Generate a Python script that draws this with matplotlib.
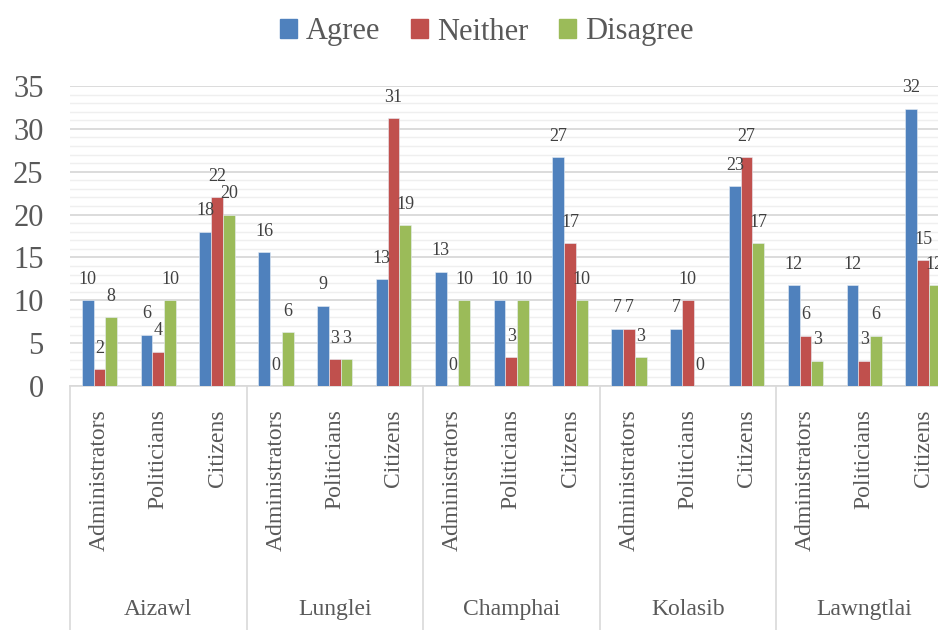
import matplotlib
matplotlib.use("Agg")
import matplotlib.pyplot as plt
import matplotlib.patches as mpatches
from matplotlib.ticker import MultipleLocator
import numpy as np

plt.rcParams['font.family'] = ['Liberation Serif', 'DejaVu Serif']

districts = ["Aizawl", "Lunglei", "Champhai", "Kolasib", "Lawngtlai"]
groups = ["Administrators", "Politicians", "Citizens"]
series = ["Agree", "Neither", "Disagree"]

# percentages, one entry per district/group pair
agree = [10.0, 6.0, 18.0,
         15.63, 9.38, 12.5,
         13.33, 10.0, 26.67,
         6.67, 6.67, 23.33,
         11.76, 11.76, 32.35]
neither = [2.0, 4.0, 22.0,
           0.0, 3.13, 31.25,
           0.0, 3.33, 16.67,
           6.67, 10.0, 26.67,
           5.88, 2.94, 14.71]
disagree = [8.0, 10.0, 20.0,
            6.25, 3.13, 18.75,
            10.0, 10.0, 10.0,
            3.33, 0.0, 16.67,
            2.94, 5.88, 11.76]

colors = ["#4F81BD", "#C0504D", "#9BBB59"]
text_grey = "#595959"

fig = plt.figure(figsize=(9.38, 6.30), dpi=100)
ax = fig.add_axes([70 / 938, 1 - 386 / 630, 882.5 / 938, 300 / 630])

n = len(districts) * len(groups)
x = np.arange(n)
width = 0.2

for i, (vals, col) in enumerate(zip([agree, neither, disagree], colors)):
    pos = x + (i - 1) * width
    ax.bar(pos, vals, width, color=col, edgecolor="#E8EEF6", linewidth=0.4, zorder=3)
    for px, v in zip(pos, vals):
        # round half up for the printed value
        label = int(np.floor(v + 0.5))
        ax.annotate(f"{label}", (px, v), xytext=(0, 15), textcoords="offset points",
                    ha="center", va="center", fontsize=13, color="#404040", zorder=4)

ax.set_xlim(-0.5, n - 0.5)
ax.set_ylim(0, 35)
ax.yaxis.set_major_locator(MultipleLocator(5))
ax.yaxis.set_minor_locator(MultipleLocator(1))
ax.grid(axis="y", which="major", color="#D9D9D9", lw=1.3, zorder=0)
ax.grid(axis="y", which="minor", color="#EFEFEF", lw=1.0, zorder=0)
ax.tick_params(axis="y", which="both", length=0, pad=19, labelsize=22, labelcolor=text_grey)

for s in ["left", "right", "top"]:
    ax.spines[s].set_visible(False)
ax.spines["bottom"].set_color("#D9D9D9")
ax.spines["bottom"].set_linewidth(1.2)

# inner category labels
ax.set_xticks(x)
ax.set_xticklabels(groups * len(districts), rotation=90, fontsize=17, color=text_grey,
                   va="top")
ax.tick_params(axis="x", length=0, pad=17)

# outer district labels and separators
trans = ax.get_xaxis_transform()
for k, name in enumerate(districts):
    left = k * len(groups) - 0.5
    ax.plot([left, left], [0, -0.9], transform=trans, color="#D9D9D9", lw=1.2,
            clip_on=False)
    ax.text(left + len(groups) / 2, -0.745, name, transform=trans, ha="center",
            va="center", fontsize=17, color=text_grey)

handles = [mpatches.Patch(color=c, label=s) for c, s in zip(colors, series)]
fig.legend(handles=handles, loc="center", bbox_to_anchor=(0.519, 1 - 32 / 630),
           ncol=3, frameon=False, fontsize=22, handlelength=0.55, handleheight=0.55,
           handletextpad=0.3, columnspacing=1.0, labelcolor=text_grey)

fig.savefig("out.png", dpi=100)
